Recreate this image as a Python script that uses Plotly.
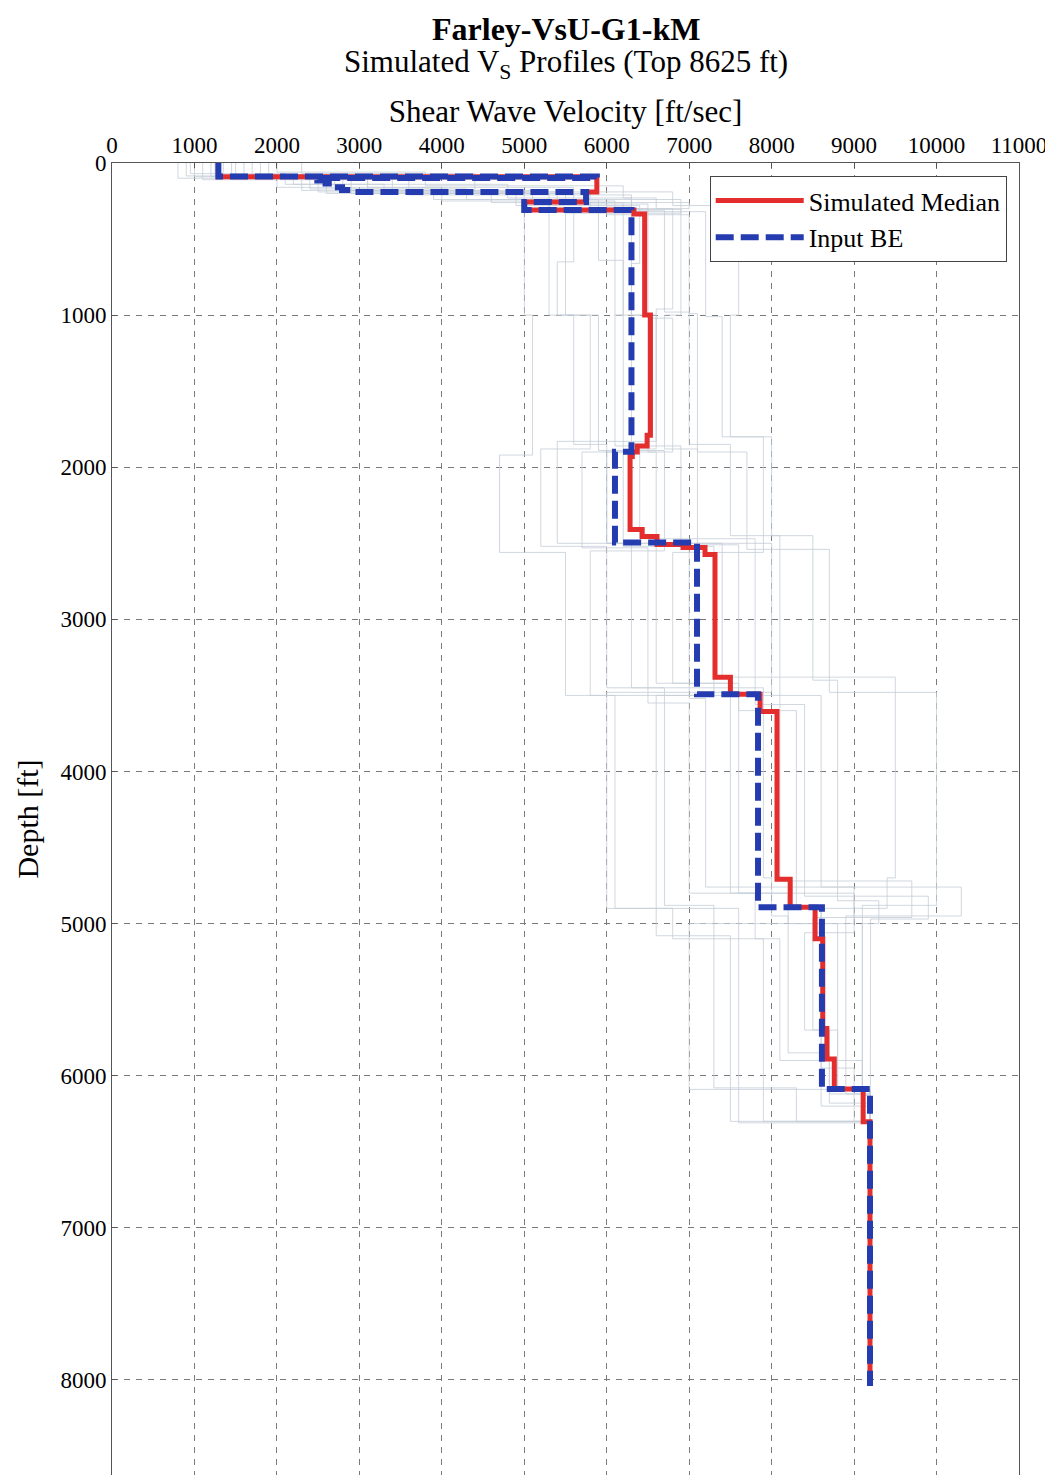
import plotly.graph_objects as go

# ---------------- data ----------------
X_TICKS = list(range(0, 11001, 1000))
X_TICK_LABELS = [str(v) for v in X_TICKS]
Y_TICKS = list(range(0, 8001, 1000))
Y_TICK_LABELS = [str(v) for v in Y_TICKS]
PROFILE_BOTTOM = 8040

# Input best estimate profile: layer top depth [ft] and Vs [ft/s]
BE_TOP = [0, 88, 98, 115, 135, 160, 178, 190, 256, 309, 1898, 2495, 3493, 4892, 6087]
BE_VS = [1290, 5880, 2490, 2590, 2690, 2790, 2890, 5750, 5000, 6300, 6100, 7095, 7835, 8610, 9193]

# Simulated median profile
MED_TOP = [0, 90, 190, 256, 309, 335, 1000, 1790, 1860, 1900, 1930, 2410, 2456, 2508,
           2528, 2574, 3381, 3493, 3605, 4708, 4892, 5100, 5690, 5890, 6087, 6303]
MED_VS = [1290, 5880, 5750, 5000, 6330, 6460, 6530, 6490, 6370, 6310, 6283, 6430, 6610, 6925,
          7192, 7313, 7500, 7860, 8065, 8225, 8527, 8620, 8670, 8760, 9110, 9193]

# Simulated (randomized) profiles, estimated from the faint lines
SIM_TOPS = [
    [0, 70, 140, 200, 300, 650, 1000, 1880, 2520, 3450, 4880, 6080, 6300],
    [0, 90, 180, 260, 310, 980, 1850, 2450, 3500, 4760, 4950, 6120],
    [0, 100, 160, 240, 330, 1000, 1900, 2500, 3380, 4700, 4900, 5950, 6300],
    [0, 80, 190, 280, 320, 1010, 1800, 2560, 3420, 4800, 5000, 6100],
    [0, 110, 200, 260, 300, 1000, 1920, 2560, 3500, 4900, 5100, 6300],
    [0, 60, 150, 230, 300, 960, 1880, 2470, 3560, 4820, 4970, 6100],
    [0, 95, 170, 240, 310, 640, 1000, 1860, 2500, 3520, 4760, 5060, 5700, 6180],
    [0, 85, 210, 290, 340, 990, 1900, 2540, 3480, 4880, 6100],
    [0, 75, 180, 270, 320, 1000, 1830, 2500, 3450, 4700, 4950, 5850, 6120],
    [0, 90, 160, 250, 300, 1020, 1900, 2520, 3500, 4900, 6310],
    [0, 70, 190, 280, 310, 1000, 1800, 2450, 3400, 4850, 5000, 6130],
    [0, 100, 200, 250, 330, 1000, 1890, 2550, 3500, 4720, 4960, 5700, 6090],
    [0, 90, 190, 260, 305, 1000, 1880, 2510, 3600, 4890, 6200],
    [0, 80, 140, 230, 300, 660, 1000, 1900, 2480, 3420, 4800, 5000, 6090],
    [0, 90, 200, 260, 300, 1000, 1850, 2500, 3480, 4900, 5080, 6300],
    [0, 100, 180, 240, 320, 990, 1900, 2530, 3550, 4800, 5100, 5900, 6100],
]
SIM_VS = [
    [950, 2100, 3300, 5300, 5600, 5400, 5800, 5200, 6000, 6700, 7300, 8300, 9193],
    [1250, 2700, 4600, 6200, 6700, 7000, 7500, 8100, 8600, 10300, 8900, 9193],
    [1500, 3100, 5600, 6900, 6100, 6300, 6000, 7400, 9500, 9400, 8600, 9000, 9193],
    [1800, 2500, 4900, 6400, 7200, 7400, 7900, 6800, 7600, 8200, 8800, 9193],
    [1100, 2900, 5400, 5800, 5000, 5100, 4700, 5500, 6100, 6800, 7900, 9193],
    [2000, 3800, 6200, 6600, 6800, 6600, 6400, 7800, 8400, 9900, 9200, 9193],
    [1350, 2400, 4300, 5900, 5900, 6200, 6100, 6900, 7000, 7200, 9000, 8400, 8700, 9193],
    [900, 3600, 6300, 6000, 7000, 7100, 7700, 8700, 10000, 9100, 9193],
    [1700, 2800, 5100, 6500, 6300, 6600, 5400, 6300, 7900, 8000, 8200, 8700, 9193],
    [1200, 2000, 4000, 5000, 6500, 6800, 6200, 7300, 6600, 7600, 9193],
    [2300, 4400, 6800, 7300, 7600, 7500, 8000, 8500, 8800, 9300, 9100, 9193],
    [1450, 2600, 5800, 6100, 5500, 5900, 6700, 5800, 8100, 9700, 8500, 8800, 9193],
    [1000, 3100, 5500, 6000, 6900, 6700, 7100, 7600, 8300, 8600, 9193],
    [1600, 2200, 4800, 6300, 6400, 6300, 6500, 6600, 6600, 7500, 9000, 7000, 9193],
    [1900, 3400, 5000, 7000, 5300, 5600, 6000, 8000, 6000, 6600, 7500, 9193],
    [800, 2300, 3900, 5300, 6200, 6200, 5700, 6500, 7000, 7800, 8100, 9100, 9193],
]

LEGEND_NAMES = ["Simulated Median", "Input BE"]

FONT = "Liberation Serif"
RED = "rgb(228,46,46)"
BLUE = "rgb(36,60,176)"
GREY = "rgb(196,205,215)"


def stairs(tops, vs, bottom):
    xs, ys = [], []
    for i, v in enumerate(vs):
        d0 = tops[i]
        d1 = tops[i + 1] if i + 1 < len(tops) else bottom
        xs += [v, v]
        ys += [d0, d1]
    return xs, ys


fig = go.Figure()

gx, gy = [], []
for tops, vs in zip(SIM_TOPS, SIM_VS):
    x, y = stairs(tops, vs, PROFILE_BOTTOM)
    gx += x + [None]
    gy += y + [None]
fig.add_trace(go.Scatter(x=gx, y=gy, mode="lines", line=dict(color=GREY, width=0.8),
                         showlegend=False, hoverinfo="skip"))

mx, my = stairs(MED_TOP, MED_VS, PROFILE_BOTTOM)
fig.add_trace(go.Scatter(x=mx, y=my, mode="lines", name=LEGEND_NAMES[0],
                         line=dict(color=RED, width=5)))
bx, by = stairs(BE_TOP, BE_VS, PROFILE_BOTTOM)
fig.add_trace(go.Scatter(x=bx, y=by, mode="lines", name=LEGEND_NAMES[1],
                         line=dict(color=BLUE, width=6, dash="18px,7px")))

axis_common = dict(
    showline=True, mirror=True, linecolor="#555", linewidth=1,
    showgrid=True, gridcolor="#7a7a7a", gridwidth=1, griddash="6px,6px",
    zeroline=False, ticks="inside", ticklen=5, tickcolor="#555",
    tickfont=dict(family=FONT, size=23, color="black"),
    automargin=False,
)

# page body has an 8px margin; figure sized so the plot spans the window like the reference
W, H = 1045, 1467
T, B, L, R = 155, 0, 104, 34

fig.update_layout(
    width=W, height=H,
    margin=dict(l=L, r=R, t=T, b=B),
    paper_bgcolor="white", plot_bgcolor="white",
    font=dict(family=FONT, color="black"),
    xaxis=dict(range=[0, 11000], side="top", tickvals=X_TICKS, ticktext=X_TICK_LABELS,
               title=dict(text="Shear Wave Velocity [ft/sec]",
                          font=dict(family=FONT, size=31), standoff=0),
               **axis_common),
    yaxis=dict(range=[8625, 0], tickvals=Y_TICKS, ticktext=Y_TICK_LABELS,
               title=dict(text="Depth [ft]", font=dict(family=FONT, size=30), standoff=12),
               **axis_common),
    legend=dict(x=0.659, y=0.990, xanchor="left", yanchor="top",
                bgcolor="white", bordercolor="#444", borderwidth=1,
                font=dict(family=FONT, size=26), itemwidth=88,
                tracegroupgap=0),
    showlegend=True,
)

plot_h = H - T - B
fig.add_annotation(text="<b>Farley-VsU-G1-kM</b>", x=0.5, xref="paper", yref="paper",
                   y=1 + (155 - 1) / plot_h, yanchor="top", showarrow=False,
                   font=dict(family=FONT, size=32))
fig.add_annotation(text="Simulated V<sub>S</sub> Profiles (Top 8625 ft)", x=0.5, xref="paper",
                   yref="paper", y=1 + (155 - 56) / plot_h, yanchor="middle", showarrow=False,
                   font=dict(family=FONT, size=31))

fig.write_html("out.html")
